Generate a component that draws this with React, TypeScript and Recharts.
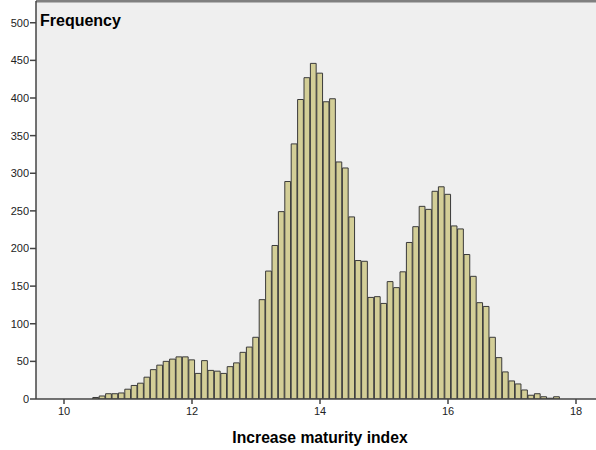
import { ComposedChart, Bar, XAxis, YAxis, CartesianGrid, ReferenceLine } from 'recharts';

// bin centres (width 0.1) and counts
const binCenters = [
  10.5, 10.6, 10.7, 10.8, 10.9, 11.0, 11.1, 11.2, 11.3, 11.4,
  11.5, 11.6, 11.7, 11.8, 11.9, 12.0, 12.1, 12.2, 12.3, 12.4,
  12.5, 12.6, 12.7, 12.8, 12.9, 13.0, 13.1, 13.2, 13.3, 13.4,
  13.5, 13.6, 13.7, 13.8, 13.9, 14.0, 14.1, 14.2, 14.3, 14.4,
  14.5, 14.6, 14.7, 14.8, 14.9, 15.0, 15.1, 15.2, 15.3, 15.4,
  15.5, 15.6, 15.7, 15.8, 15.9, 16.0, 16.1, 16.2, 16.3, 16.4,
  16.5, 16.6, 16.7, 16.8, 16.9, 17.0, 17.1, 17.2, 17.3, 17.4,
  17.5, 17.6, 17.7,
];

const frequencies = [
  2, 4, 7, 7, 8, 13, 18, 21, 29, 39,
  45, 50, 53, 56, 56, 52, 34, 51, 38, 37,
  34, 43, 48, 62, 69, 82, 132, 170, 204, 249,
  289, 339, 398, 427, 446, 433, 395, 399, 315, 307,
  242, 184, 183, 135, 136, 127, 156, 148, 169, 208,
  229, 256, 252, 276, 282, 272, 230, 226, 192, 163,
  128, 123, 82, 55, 36, 24, 20, 12, 5, 7,
  3, 1, 3,
];

const xTicks = [10, 12, 14, 16, 18];
const yTicks = [0, 50, 100, 150, 200, 250, 300, 350, 400, 450, 500];

const X_MIN = 9.5625;
const X_MAX = 18.3125;
const Y_MAX = 528.9;

const data = binCenters.map((x, i) => ({ x, count: frequencies[i] }));

const font = '"Liberation Sans", Arial, sans-serif';

export default function App() {
  return (
    <div style={{ position: 'relative', width: 596, height: 450, fontFamily: font }}>
      <style>{'body { margin: 0; }'}</style>
      <ComposedChart
        width={596}
        height={450}
        data={data}
        margin={{ top: 1, right: 0, left: 0, bottom: 0 }}
      >
        <CartesianGrid horizontal={false} vertical={false} fill="#efefef" stroke="none" />
        <XAxis
          type="number"
          dataKey="x"
          domain={[X_MIN, X_MAX]}
          allowDataOverflow
          ticks={xTicks}
          height={51}
          stroke="#444"
          strokeWidth={1.5}
          tickSize={5}
          tickMargin={3}
          tick={{ fill: '#222', fontSize: 11, fontFamily: font }}
          label={{
            value: 'Increase maturity index',
            position: 'insideBottom',
            offset: 7,
            dx: 4,
            style: { fill: '#000', fontSize: 15.7, fontWeight: 'bold', fontFamily: font },
          }}
        />
        <YAxis
          type="number"
          domain={[0, Y_MAX]}
          allowDataOverflow
          ticks={yTicks}
          width={36}
          stroke="#444"
          strokeWidth={1.5}
          tickSize={6}
          tickMargin={1}
          tick={{ fill: '#222', fontSize: 11, fontFamily: font }}
        />
        <ReferenceLine y={Y_MAX} stroke="#808080" strokeWidth={3} />
        <Bar
          dataKey="count"
          barSize={6.4}
          fill="#d3ce97"
          stroke="#3a3a3a"
          strokeWidth={1}
          isAnimationActive={false}
        />
      </ComposedChart>
      <div
        style={{
          position: 'absolute',
          left: 40,
          top: 12,
          fontSize: 16,
          fontWeight: 'bold',
          color: '#000',
          lineHeight: '17px',
        }}
      >
        Frequency
      </div>
    </div>
  );
}
